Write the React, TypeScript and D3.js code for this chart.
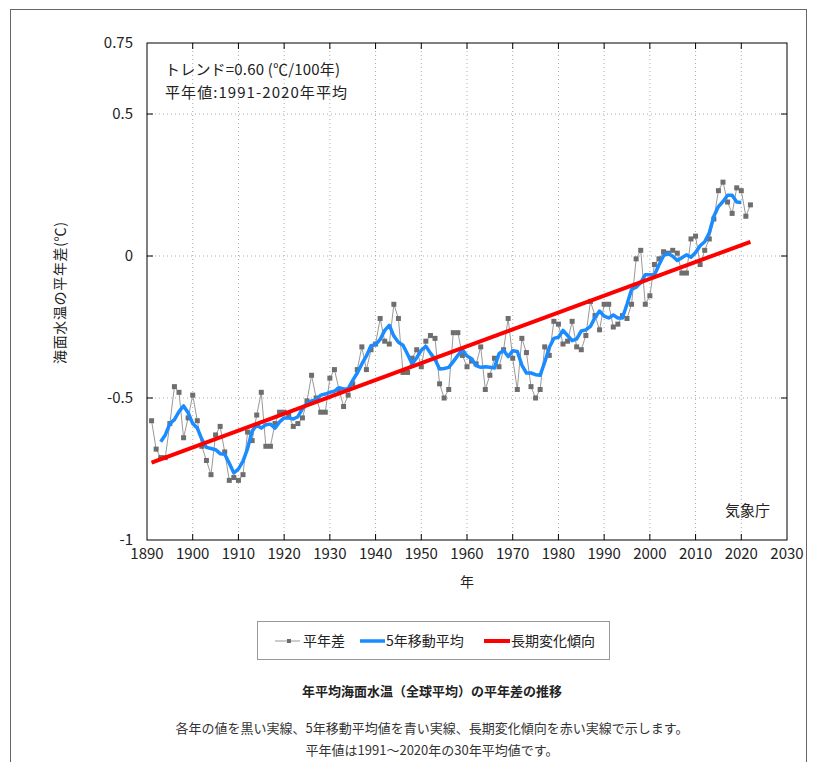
import * as d3 from 'd3';

// 年平均海面水温（全球平均）の平年差 (1991-2020年平均基準), ℃
const years = d3.range(1891, 2023);
const anomalies = [
  -0.58, -0.68, -0.71, -0.71, -0.59, -0.46, -0.48, -0.64, -0.57, -0.49, // 1891-1900
  -0.58, -0.67, -0.72, -0.77, -0.63, -0.60, -0.69, -0.79, -0.78, -0.79, // 1901-1910
  -0.77, -0.62, -0.65, -0.56, -0.48, -0.67, -0.67, -0.59, -0.55, -0.55, // 1911-1920
  -0.56, -0.60, -0.59, -0.57, -0.51, -0.42, -0.50, -0.55, -0.55, -0.43, // 1921-1930
  -0.40, -0.47, -0.53, -0.49, -0.45, -0.40, -0.32, -0.40, -0.33, -0.31, // 1931-1940
  -0.22, -0.30, -0.31, -0.17, -0.22, -0.41, -0.41, -0.36, -0.33, -0.39, // 1941-1950
  -0.30, -0.28, -0.29, -0.45, -0.50, -0.47, -0.27, -0.27, -0.35, -0.39, // 1951-1960
  -0.37, -0.38, -0.32, -0.47, -0.42, -0.36, -0.39, -0.33, -0.22, -0.36, // 1961-1970
  -0.47, -0.29, -0.34, -0.46, -0.50, -0.47, -0.32, -0.35, -0.23, -0.24, // 1971-1980
  -0.31, -0.30, -0.23, -0.32, -0.33, -0.28, -0.16, -0.21, -0.26, -0.17, // 1981-1990
  -0.17, -0.25, -0.24, -0.21, -0.22, -0.17, -0.01, 0.02, -0.17, -0.14,  // 1991-2000
  -0.03, -0.01, 0.015, 0.01, 0.02, 0.01, -0.06, -0.06, 0.06, 0.07,      // 2001-2010
  -0.03, 0.02, 0.06, 0.13, 0.23, 0.26, 0.19, 0.15, 0.24, 0.23,          // 2011-2020
  0.14, 0.18,                                                           // 2021-2022
];

const xTicks = d3.range(1890, 2031, 10);
const yTicks = [0.75, 0.5, 0, -0.5, -1];
const yGrid = [0.5, 0, -0.5];

const legendItems = ['平年差', '5年移動平均', '長期変化傾向'];
const captions = [
  '各年の値を黒い実線、5年移動平均値を青い実線、長期変化傾向を赤い実線で示します。',
  '平年値は1991～2020年の30年平均値です。',
];

const FONT = '"Noto Sans CJK JP", "Noto Sans", sans-serif';

const App = () => {
  const x = d3.scaleLinear().domain([1890, 2030]).range([147, 787]);
  const y = d3.scaleLinear().domain([-1, 0.75]).range([540, 43]);

  const points = years.map((yr, i) => ({ yr, v: anomalies[i] }));

  // 5年移動平均 (centered)
  const moving = points
    .map((p, i) => {
      if (i < 2 || i > points.length - 3) return null;
      return { yr: p.yr, v: d3.mean(anomalies.slice(i - 2, i + 3)) as number };
    })
    .filter((d): d is { yr: number; v: number } => d !== null);

  // 長期変化傾向 (least squares)
  const mx = d3.mean(years) as number;
  const my = d3.mean(anomalies) as number;
  const slope =
    d3.sum(points, (p) => (p.yr - mx) * (p.v - my)) / d3.sum(points, (p) => (p.yr - mx) ** 2);
  const trend = [years[0], years[years.length - 1]].map((yr) => ({ yr, v: my + slope * (yr - mx) }));

  const line = d3
    .line<{ yr: number; v: number }>()
    .x((d) => x(d.yr))
    .y((d) => y(d.v));

  const [x0, x1] = x.range();
  const [y1, y0] = y.range();

  return (
    <svg
      width={813}
      height={762}
      style={{ position: 'absolute', left: 0, top: 0, background: '#fff' }}
      fontFamily={FONT}
    >
      <rect x={10.5} y={9.5} width={796} height={800} fill="none" stroke="#666" strokeWidth={1} />

      {/* grid */}
      {xTicks.slice(1, -1).map((t) => (
        <line key={'gx' + t} x1={x(t)} x2={x(t)} y1={y0} y2={y1} stroke="#aaa" strokeDasharray="1,3" />
      ))}
      {yGrid.map((t) => (
        <line key={'gy' + t} x1={x0} x2={x1} y1={y(t)} y2={y(t)} stroke="#aaa" strokeDasharray="1,3" />
      ))}

      {/* 平年差 */}
      <path d={line(points) ?? ''} fill="none" stroke="#999" strokeWidth={1} />
      {points.map((p) => (
        <rect key={p.yr} x={x(p.yr) - 2.5} y={y(p.v) - 2.5} width={5} height={5} fill="#6e6e6e" />
      ))}

      {/* 5年移動平均 */}
      <path d={line(moving) ?? ''} fill="none" stroke="#1a8cff" strokeWidth={3.5} strokeLinejoin="round" />

      {/* 長期変化傾向 */}
      <path d={line(trend) ?? ''} fill="none" stroke="#ff0000" strokeWidth={4} />

      {/* frame and ticks */}
      <rect x={x0} y={y0} width={x1 - x0} height={y1 - y0} fill="none" stroke="#000" strokeWidth={1} />
      {xTicks.slice(1, -1).map((t) => (
        <g key={'tx' + t}>
          <line x1={x(t)} x2={x(t)} y1={y0} y2={y0 + 6} stroke="#000" />
          <line x1={x(t)} x2={x(t)} y1={y1} y2={y1 - 6} stroke="#000" />
        </g>
      ))}
      {yGrid.map((t) => (
        <g key={'ty' + t}>
          <line x1={x0} x2={x0 + 6} y1={y(t)} y2={y(t)} stroke="#000" />
          <line x1={x1} x2={x1 - 6} y1={y(t)} y2={y(t)} stroke="#000" />
        </g>
      ))}

      {/* tick labels */}
      {yTicks.map((t) => (
        <text key={'ly' + t} x={133} y={y(t)} dy="0.35em" textAnchor="end" fontSize={15} fill="#222">
          {t}
        </text>
      ))}
      {xTicks.map((t) => (
        <text key={'lx' + t} x={x(t)} y={559} textAnchor="middle" fontSize={15} fill="#222">
          {t}
        </text>
      ))}

      <text x={(x0 + x1) / 2} y={587} textAnchor="middle" fontSize={14} fill="#222">
        年
      </text>
      <text
        transform={`translate(65,${293}) rotate(-90)`}
        textAnchor="middle"
        fontSize={14}
        fill="#222"
        textLength={142}
        lengthAdjust="spacing"
      >
        海面水温の平年差(℃)
      </text>

      <text x={165} y={75} fontSize={15} fill="#222" textLength={175} lengthAdjust="spacing">
        トレンド=0.60 (℃/100年)
      </text>
      <text x={165} y={98} fontSize={15} fill="#222" textLength={182} lengthAdjust="spacing">
        平年値:1991-2020年平均
      </text>
      <text x={770} y={516} textAnchor="end" fontSize={15} fill="#222">
        気象庁
      </text>

      {/* legend */}
      <rect x={257.5} y={621.5} width={352} height={38} fill="#fff" stroke="#999" />
      <line x1={275} x2={300} y1={641} y2={641} stroke="#999" />
      <rect x={287} y={639} width={4} height={4} fill="#6e6e6e" />
      <text x={303} y={646} fontSize={14} fill="#222">
        {legendItems[0]}
      </text>
      <line x1={360} x2={385} y1={641} y2={641} stroke="#1a8cff" strokeWidth={3.5} />
      <text x={386} y={646} fontSize={14} fill="#222">
        {legendItems[1]}
      </text>
      <line x1={484} x2={510} y1={641} y2={641} stroke="#ff0000" strokeWidth={4} />
      <text x={511} y={646} fontSize={14} fill="#222">
        {legendItems[2]}
      </text>

      <text x={432} y={696} textAnchor="middle" fontSize={13} fontWeight="bold" fill="#222">
        年平均海面水温（全球平均）の平年差の推移
      </text>
      {captions.map((c, i) => (
        <text key={c} x={432} y={733 + i * 22} textAnchor="middle" fontSize={13} fill="#333">
          {c}
        </text>
      ))}
    </svg>
  );
};

export default App;
